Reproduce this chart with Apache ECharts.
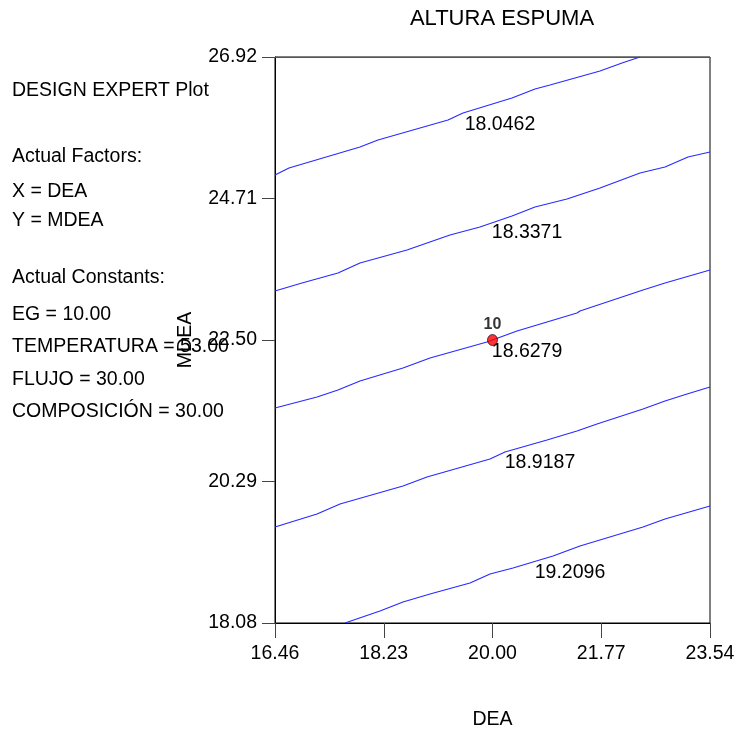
<!DOCTYPE html>
<html>
<head>
<meta charset="utf-8">
<script src="https://cdn.jsdelivr.net/npm/echarts@6/dist/echarts.min.js"></script>
<style>
html,body{margin:0;padding:0;background:#fff;}
#chart{width:736px;height:731px;}
</style>
</head>
<body>
<div id="chart"></div>
<script>
// ---- data ----
var xTicks = [16.46, 18.23, 20.00, 21.77, 23.54];
var yTicks = [18.08, 20.29, 22.50, 24.71, 26.92];

var contourLevels = ['18.0462', '18.3371', '18.6279', '18.9187', '19.2096'];

var contour1 = [[16.46,25.077],[16.688,25.186],[17.843,25.514],[18.136,25.623],[19.276,25.936],[19.520,26.045],[20.317,26.279],[20.692,26.420],[20.936,26.482],[21.750,26.701],[22.108,26.826],[22.401,26.92]];
var contour2 = [[16.46,23.265],[16.899,23.390],[17.485,23.546],[17.843,23.702],[18.608,23.905],[19.308,24.140],[19.796,24.265],[20.317,24.436],[20.692,24.577],[21.212,24.702],[21.750,24.874],[22.401,25.108],[22.808,25.202],[23.182,25.358],[23.54,25.436]];
var contour3 = [[16.46,21.438],[17.144,21.610],[17.485,21.719],[17.843,21.860],[18.543,22.063],[18.983,22.219],[19.910,22.469],[20.399,22.640],[21.375,22.922],[21.424,22.953],[22.450,23.281],[22.808,23.390],[23.54,23.593]];
var contour4 = [[16.46,19.579],[17.144,19.782],[17.518,19.939],[18.543,20.220],[18.934,20.360],[19.959,20.641],[20.203,20.751],[20.887,20.938],[21.375,21.079],[21.701,21.188],[22.450,21.422],[22.808,21.547],[23.166,21.656],[23.54,21.766]];
var contour5 = [[17.599,18.08],[18.169,18.267],[18.543,18.408],[18.983,18.533],[19.634,18.705],[19.959,18.845],[20.334,18.939],[20.985,19.126],[21.424,19.283],[22.450,19.579],[22.808,19.704],[23.54,19.907]];

var contourLabelPos = [[20.122,25.858],[20.562,24.171],[20.562,22.312],[20.773,20.579],[21.261,18.861]];

var designPoint = [[20.00, 22.50]];
var designPointLabel = '10';

var infoLines = [
  'DESIGN EXPERT Plot',
  'Actual Factors:',
  'X = DEA',
  'Y = MDEA',
  'Actual Constants:',
  'EG = 10.00',
  'TEMPERATURA = 53.00',
  'FLUJO = 30.00',
  'COMPOSICIÓN = 30.00'
];
var infoY = [91, 157, 192, 221, 278, 315, 347, 380, 412];

// ---- chart ----
var FONT = 'Liberation Sans, Arial, sans-serif';
var chart = echarts.init(document.getElementById('chart'), null, {renderer: 'canvas'});

var contours = [contour1, contour2, contour3, contour4, contour5];
var series = contours.map(function (c, i) {
  return {
    type: 'line',
    name: contourLevels[i],
    data: c,
    showSymbol: false,
    symbol: 'none',
    lineStyle: {color: '#2a2aff', width: 1.2},
    silent: true,
    z: 2
  };
});
series.push({
  type: 'scatter',
  data: contourLabelPos.map(function (p, i) { return {value: p, name: contourLevels[i]}; }),
  symbolSize: 0,
  itemStyle: {color: '#000', opacity: 1},
  label: {show: true, position: 'inside', formatter: '{b}', color: '#000', opacity: 1,
    textBorderWidth: 0, fontSize: 19.5, fontFamily: FONT},
  emphasis: {disabled: true},
  silent: true,
  z: 3
});
series.push({
  type: 'scatter',
  data: designPoint,
  symbol: 'circle',
  symbolSize: [10, 11],
  itemStyle: {color: '#ff0000', borderColor: '#000', borderWidth: 0.8},
  label: {show: true, position: 'top', distance: 1, formatter: designPointLabel, color: '#000',
    textBorderWidth: 0, fontSize: 16, fontWeight: 'bold', fontFamily: FONT},
  emphasis: {disabled: true},
  z: 5
});

var graphics = infoLines.map(function (t, i) {
  return {
    type: 'text', x: 12, y: infoY[i],
    style: {text: t, fill: '#000', font: '19.5px ' + FONT, textVerticalAlign: 'middle'},
    z: 10
  };
});
graphics.push({
  type: 'text', x: 502, y: 19,
  style: {text: 'ALTURA ESPUMA', fill: '#000', font: '22px ' + FONT, textAlign: 'center', textVerticalAlign: 'middle'}
});

chart.setOption({
  animation: false,
  backgroundColor: '#fff',
  grid: {left: 275, right: 26, top: 57, bottom: 108, containLabel: false, outerBoundsMode: 'none',
    show: true, borderColor: '#000', borderWidth: 1},
  xAxis: [{
    type: 'value', min: 16.46, max: 23.54,
    name: 'DEA', nameLocation: 'middle', nameGap: 87,
    nameTextStyle: {color: '#000', fontSize: 19.5, fontFamily: FONT},
    axisLine: {show: true, lineStyle: {color: '#000', width: 1}},
    axisTick: {show: true, length: 15, customValues: xTicks, lineStyle: {color: '#444'}},
    axisLabel: {customValues: xTicks, margin: 21, color: '#000', fontSize: 19.5, fontFamily: FONT,
      formatter: function (v) { return v.toFixed(2); }},
    splitLine: {show: false}
  }, {
    type: 'value', position: 'top', min: 16.46, max: 23.54,
    axisLine: {show: true, lineStyle: {color: '#555', width: 1}},
    axisTick: {show: false}, axisLabel: {show: false}, splitLine: {show: false}
  }],
  yAxis: [{
    type: 'value', min: 18.08, max: 26.92,
    name: 'MDEA', nameLocation: 'middle', nameGap: 79,
    nameTextStyle: {color: '#000', fontSize: 19.5, fontFamily: FONT},
    axisLine: {show: true, lineStyle: {color: '#000', width: 1}},
    axisTick: {show: true, length: 13, customValues: yTicks, lineStyle: {color: '#444'}},
    axisLabel: {customValues: yTicks, margin: 18, color: '#000', fontSize: 19.5, fontFamily: FONT,
      formatter: function (v) { return v.toFixed(2); }},
    splitLine: {show: false}
  }],
  series: series,
  graphic: graphics
});
</script>
</body>
</html>
